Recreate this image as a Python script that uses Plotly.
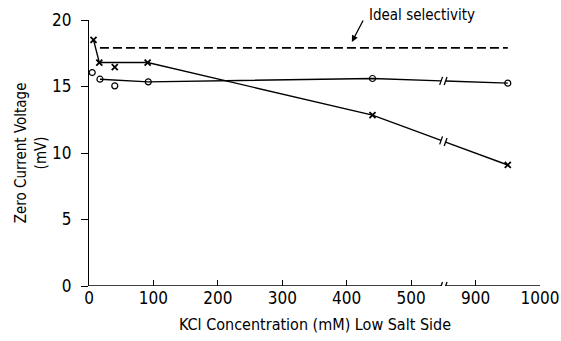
import plotly.graph_objects as go

# ---- data (real KCl concentration in mM, voltage in mV) ----
o_conc = [5, 17, 40, 92, 440, 950]
o_volt = [16.05, 15.55, 15.05, 15.35, 15.6, 15.25]
o_line_idx = [1, 3, 4, 5]

x_conc = [7, 16, 40, 91, 440, 950]
x_volt = [18.5, 16.8, 16.45, 16.8, 12.85, 9.1]
x_line_idx = [0, 1, 3, 4, 5]

ideal_conc = [17, 950]
ideal_volt = [17.9, 17.9]

tick_real = [0, 100, 200, 300, 400, 500, 900, 1000]
tick_text = ["0", "100", "200", "300", "400", "500", "900", "1000"]
y_ticks = [0, 5, 10, 15, 20]

# axis break: displayed axis skips 550..850 real
BREAK_DISP = 550
SHIFT = 300
GAP = 3.5  # half-gap in display units

FONT = "Liberation Sans Narrow, DejaVu Sans Condensed, Liberation Sans, Arial"


def disp(c):
    return c if c <= BREAK_DISP else c - SHIFT


def broken_line(xs, ys):
    """Return display coords of a polyline with a gap at the axis break."""
    dx = [disp(v) for v in xs]
    out_x, out_y = [dx[0]], [ys[0]]
    for i in range(1, len(dx)):
        x0, y0, x1, y1 = dx[i - 1], ys[i - 1], dx[i], ys[i]
        if x0 < BREAK_DISP < x1:
            def yat(xx):
                return y0 + (y1 - y0) * (xx - x0) / (x1 - x0)
            a, b = BREAK_DISP - GAP, BREAK_DISP + GAP
            out_x += [a, None, b]
            out_y += [yat(a), None, yat(b)]
        out_x.append(x1)
        out_y.append(y1)
    return out_x, out_y


fig = go.Figure()
black = "black"

# axis line with break (x axis at y=0)
ax_x, ax_y = broken_line([0, 1000], [0, 0])
fig.add_trace(go.Scatter(x=ax_x, y=ax_y, mode="lines",
                         line=dict(color=black, width=1.3), hoverinfo="skip"))

# ideal selectivity dashed line
fig.add_trace(go.Scatter(x=[disp(v) for v in ideal_conc], y=ideal_volt, mode="lines",
                         line=dict(color=black, width=1.8, dash="9px,4px"), hoverinfo="skip"))

# O series
lx, ly = broken_line([o_conc[i] for i in o_line_idx], [o_volt[i] for i in o_line_idx])
fig.add_trace(go.Scatter(x=lx, y=ly, mode="lines", line=dict(color=black, width=1.4)))
fig.add_trace(go.Scatter(x=[disp(v) for v in o_conc], y=o_volt, mode="markers",
                         marker=dict(symbol="circle-open", size=6, color=black,
                                     line=dict(width=1.2, color=black))))

# X series
lx, ly = broken_line([x_conc[i] for i in x_line_idx], [x_volt[i] for i in x_line_idx])
fig.add_trace(go.Scatter(x=lx, y=ly, mode="lines", line=dict(color=black, width=1.4)))
fig.add_trace(go.Scatter(x=[disp(v) for v in x_conc], y=x_volt, mode="markers",
                         marker=dict(symbol="x-thin", size=6, color=black,
                                     line=dict(width=1.8, color=black))))

# break marks "//" on axis and on the two data lines
def y_on(xs, ys, dxv):
    dx = [disp(v) for v in xs]
    for i in range(1, len(dx)):
        if dx[i - 1] <= dxv <= dx[i]:
            return ys[i - 1] + (ys[i] - ys[i - 1]) * (dxv - dx[i - 1]) / (dx[i] - dx[i - 1])
    return ys[-1]

for xs, ys in [([0, 1000], [0, 0]),
               ([o_conc[i] for i in o_line_idx], [o_volt[i] for i in o_line_idx]),
               ([x_conc[i] for i in x_line_idx], [x_volt[i] for i in x_line_idx])]:
    for side in (-GAP, GAP):
        xc = BREAK_DISP + side
        yc = y_on(xs, ys, xc)
        fig.add_shape(type="line", xref="x", yref="y",
                      x0=xc - 2.2, x1=xc + 2.2, y0=yc - 0.3, y1=yc + 0.3,
                      line=dict(color=black, width=1.3))

# annotations
fig.add_annotation(x=408, y=18.35, xref="x", yref="y", text="",
                   showarrow=True, ax=12, ay=-23, arrowhead=2, arrowsize=1,
                   arrowwidth=1.3, arrowcolor=black)
fig.add_annotation(x=0.616, y=1.02, xref="paper", yref="paper",
                   text="Ideal selectivity", showarrow=False,
                   xanchor="left", yanchor="middle",
                   font=dict(family=FONT, size=15, color=black))
fig.add_annotation(x=0.5, y=-0.143, xref="paper", yref="paper",
                   text="KCl Concentration (mM) Low Salt Side", showarrow=False,
                   xanchor="center", yanchor="middle",
                   font=dict(family=FONT, size=16, color=black))
fig.add_annotation(x=-0.128, y=0.5, xref="paper", yref="paper",
                   text="Zero Current Voltage<br>(mV)", showarrow=False,
                   textangle=-90, xanchor="center", yanchor="middle",
                   font=dict(family=FONT, size=15, color=black))

fig.update_layout(
    width=561, height=341,
    margin=dict(l=89, r=21, t=20, b=55, autoexpand=False),
    paper_bgcolor="white", plot_bgcolor="white",
    showlegend=False,
    font=dict(family=FONT, size=17, color=black),
)
fig.update_xaxes(range=[0, 700], tickvals=[disp(v) if v <= BREAK_DISP else v - SHIFT for v in tick_real],
                 ticktext=tick_text, ticks="inside", ticklen=6, tickwidth=1.2,
                 tickcolor=black, showline=False, showgrid=False, zeroline=False,
                 tickfont=dict(family=FONT, size=17, color=black))
fig.update_yaxes(range=[0, 20], tickvals=y_ticks, ticks="outside", ticklen=7,
                 tickwidth=1.2, tickcolor=black, showline=True, linecolor=black,
                 linewidth=1.3, showgrid=False, zeroline=False, ticklabelstandoff=6,
                 tickfont=dict(family=FONT, size=17, color=black))

fig.write_html("out.html")
